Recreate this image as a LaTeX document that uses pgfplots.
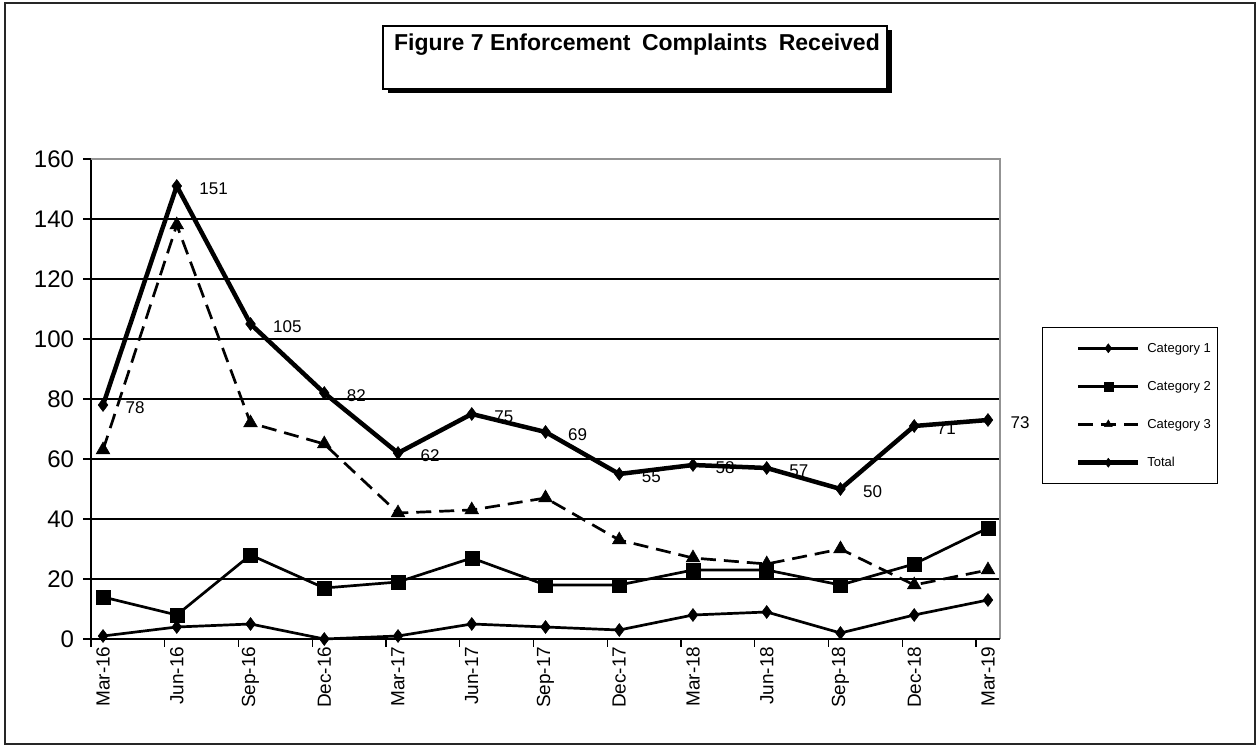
\documentclass[border=0pt]{standalone}
\usepackage{pgfplots}
\pgfplotsset{compat=1.18}
\usepackage{fontspec}
\setmainfont{Liberation Sans}
\begin{document}
\begin{tikzpicture}[x=1pt,y=1pt]
\path[fill=white] (0,0) rectangle (1258,747);
\draw[line width=1.5pt, black!85] (5,3) rectangle (1255,744);
% title box with shadow
\fill[black] (388,654) rectangle (892,717);
\draw[fill=white, line width=1.2pt] (383,658) rectangle (887,721);
\node[font=\fontsize{23}{27}\selectfont\bfseries] at (637,702) {Figure 7 Enforcement\hspace{0.5em}Complaints\hspace{0.5em}Received};
\begin{axis}[
  at={(91pt,108pt)}, anchor=south west,
  scale only axis, width=909pt, height=480pt,
  xmin=-0.163, xmax=12.163, ymin=0, ymax=160,
  axis line style={draw=none},
  tick pos=left,
  ytick={0,20,...,160},
  ymajorgrids, major grid style={black, line width=1.3pt},
  tick align=outside,
  major tick length=7.5pt,
  tick style={black, line width=1.3pt},
  /pgf/number format/assume math mode=true,
  yticklabel style={font=\fontsize{24}{26}\selectfont, xshift=-6pt},
  xtick={-0.163,0.837,1.837,2.837,3.837,4.837,5.837,6.837,7.837,8.837,9.837,10.837,11.837},
  xticklabels={},
  extra x ticks={0,1,2,3,4,5,6,7,8,9,10,11,12},
  extra x tick labels={Mar-16,Jun-16,Sep-16,Dec-16,Mar-17,Jun-17,Sep-17,Dec-17,Mar-18,Jun-18,Sep-18,Dec-18,Mar-19},
  extra x tick style={major tick length=0pt, grid=none},
  x tick label style={rotate=90, anchor=east, font=\fontsize{19}{22}\selectfont, xshift=-4pt},
  clip=false,
  legend style={at={(1.046,0.65)}, anchor=north west, draw=black, line width=1pt,
    font=\fontsize{13}{15}\selectfont, inner xsep=5pt, inner ysep=13.5pt, row sep=23.5pt,
    cells={anchor=west}},
  legend image code/.code={\path[draw=none] (-31pt,0pt) -- (67pt,0pt);\draw[mark repeat=2,mark phase=2] plot coordinates {(0pt,0pt) (30pt,0pt) (60pt,0pt)};},
  legend image post style={mark size=4.5pt},
  after end axis/.code={
    \draw[black, line width=1.5pt] (rel axis cs:0,0) -- (rel axis cs:0,1);
    \draw[gray!85, line width=2pt] (rel axis cs:0,1) -- (rel axis cs:1,1) -- (rel axis cs:1,0);
    \draw[black, line width=1.5pt] (rel axis cs:0,0) -- (rel axis cs:1,0);
  },
]
\addplot[black, line width=2.7pt, mark=diamond*, mark size=6.5pt, mark options={solid, line width=0.5pt}]
  coordinates {(0,1) (1,4) (2,5) (3,0) (4,1) (5,5) (6,4) (7,3) (8,8) (9,9) (10,2) (11,8) (12,13)};
\addlegendentry{Category 1}
\addplot[black, line width=2.7pt, mark=square*, mark size=7pt, mark options={solid, line width=0.5pt}]
  coordinates {(0,14) (1,8) (2,28) (3,17) (4,19) (5,27) (6,18) (7,18) (8,23) (9,23) (10,18) (11,25) (12,37)};
\addlegendentry{Category 2}
\addplot[black, line width=2.7pt, dash pattern=on 15pt off 8pt, mark=triangle*, mark size=8pt, mark options={solid, line width=0.5pt}]
  coordinates {(0,63) (1,138) (2,72) (3,65) (4,42) (5,43) (6,47) (7,33) (8,27) (9,25) (10,30) (11,18) (12,23)};
\addlegendentry{Category 3}
\addplot[black, line width=4.5pt, mark=diamond*, mark size=6.5pt, mark options={solid, line width=0.5pt},
  nodes near coords, every node near coord/.style={anchor=west, xshift=19pt, yshift=-3pt, font=\fontsize{17}{20}\selectfont, black}]
  coordinates {(0,78) (1,151) (2,105) (3,82) (4,62) (5,75) (6,69) (7,55) (8,58) (9,57) (10,50) (11,71) (12,73)};
\addlegendentry{Total}
\end{axis}
\end{tikzpicture}
\end{document}
